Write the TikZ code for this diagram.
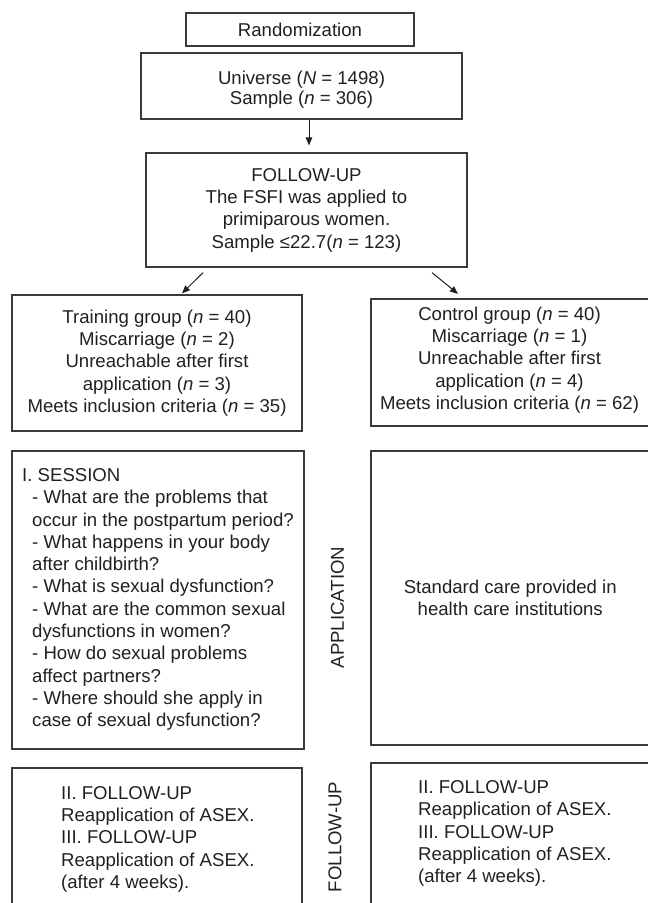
\documentclass[tikz,border=0pt]{standalone}
\usepackage{fontspec}
\setmainfont{Liberation Sans}
\usetikzlibrary{arrows.meta}
\definecolor{ink}{HTML}{231F20}
\definecolor{edge}{HTML}{3A3A3A}
\begin{document}
\begin{tikzpicture}[x=1pt,y=-1pt,
  every node/.style={font=\fontsize{18.6}{22.3}\selectfont, text=ink},
  box/.style={draw=edge, line width=1.2pt, rectangle, inner sep=0pt, align=center},
  arr/.style={draw=ink, line width=1pt, -{Triangle[length=8pt,width=6.5pt]}},
  ctxt/.style={align=center, inner sep=0pt},
  ltxt/.style={align=left, inner sep=0pt},
  vlab/.style={rotate=90, inner sep=0pt}
]
\useasboundingbox (0,0) rectangle (648,903);

\node[box, minimum width=228pt, minimum height=33pt] (rand) at (300,29.5) {Randomization};
\node[box, minimum width=321pt, minimum height=66pt] (univ) at (301.5,86) {};
\node[ctxt, anchor=north, font=\fontsize{18.6}{20}\selectfont] (univtxt) at (301.5,70.8)
  {Universe (\textit{N} = 1498)\\Sample (\textit{n} = 306)};
\node[box, minimum width=321pt, minimum height=114pt] (fsfi) at (306.5,210)
  {FOLLOW-UP\\The FSFI was applied to\\primiparous women.\\Sample ≤22.7(\textit{n} = 123)};

\node[box, minimum width=290pt, minimum height=136pt] (train) at (157,363)
  {Training group (\textit{n} = 40)\\Miscarriage (\textit{n} = 2)\\Unreachable after first\\application (\textit{n} = 3)\\Meets inclusion criteria (\textit{n} = 35)};
\node[box, minimum width=278.5pt, minimum height=127pt] (ctrl) at (510.25,362.5) {};
\node[ctxt] (ctrltxt) at (509.5,360)
  {Control group (\textit{n} = 40)\\Miscarriage (\textit{n} = 1)\\Unreachable after first\\application (\textit{n} = 4)\\Meets inclusion criteria (\textit{n} = 62)};

\node[box, minimum width=292pt, minimum height=298pt] (sess) at (158,600) {};
\node[inner sep=0pt, anchor=west] (sesstxt) at (22,599.5)
  {\begin{minipage}{280pt}\raggedright
   I. SESSION\\
   \hspace*{10pt}- What are the problems that\\
   \hspace*{10pt}occur in the postpartum period?\\
   \hspace*{10pt}- What happens in your body\\
   \hspace*{10pt}after childbirth?\\
   \hspace*{10pt}- What is sexual dysfunction?\\
   \hspace*{10pt}- What are the common sexual\\
   \hspace*{10pt}dysfunctions in women?\\
   \hspace*{10pt}- How do sexual problems\\
   \hspace*{10pt}affect partners?\\
   \hspace*{10pt}- Where should she apply in\\
   \hspace*{10pt}case of sexual dysfunction?
   \end{minipage}};

\node[vlab] (applab) at (337.5,607.5) {APPLICATION};

\node[box, minimum width=278.5pt, minimum height=294pt] (std) at (510.25,598)
  {Standard care provided in\\health care institutions};

\node[box, minimum width=290pt, minimum height=160pt] (fl) at (157,848) {};
\node[ltxt, anchor=north west] (fltxt) at (61,786)
  {II. FOLLOW-UP\\Reapplication of ASEX.\\III. FOLLOW-UP\\Reapplication of ASEX.\\(after 4 weeks).};

\node[box, minimum width=278.5pt, minimum height=165pt] (fr) at (510.25,845.5) {};
\node[ltxt, anchor=north west] (frtxt) at (418,780.5)
  {II. FOLLOW-UP\\Reapplication of ASEX.\\III. FOLLOW-UP\\Reapplication of ASEX.\\(after 4 weeks).};

\node[vlab] (fulab) at (335,837) {FOLLOW-UP};

\coordinate (ax) at (309,0);
\coordinate (al1) at (203,0);
\coordinate (al2) at (182,0);
\coordinate (ar1) at (432,0);
\coordinate (ar2) at (458,0);

\draw[arr] (univ.south -| ax) -- ([yshift=7pt]fsfi.north -| ax);
\draw[arr] ([yshift=-5pt]fsfi.south -| al1) -- ([yshift=1pt]train.north -| al2);
\draw[arr] ([yshift=-5pt]fsfi.south -| ar1) -- ([yshift=4.5pt]ctrl.north -| ar2);
\end{tikzpicture}
\end{document}
